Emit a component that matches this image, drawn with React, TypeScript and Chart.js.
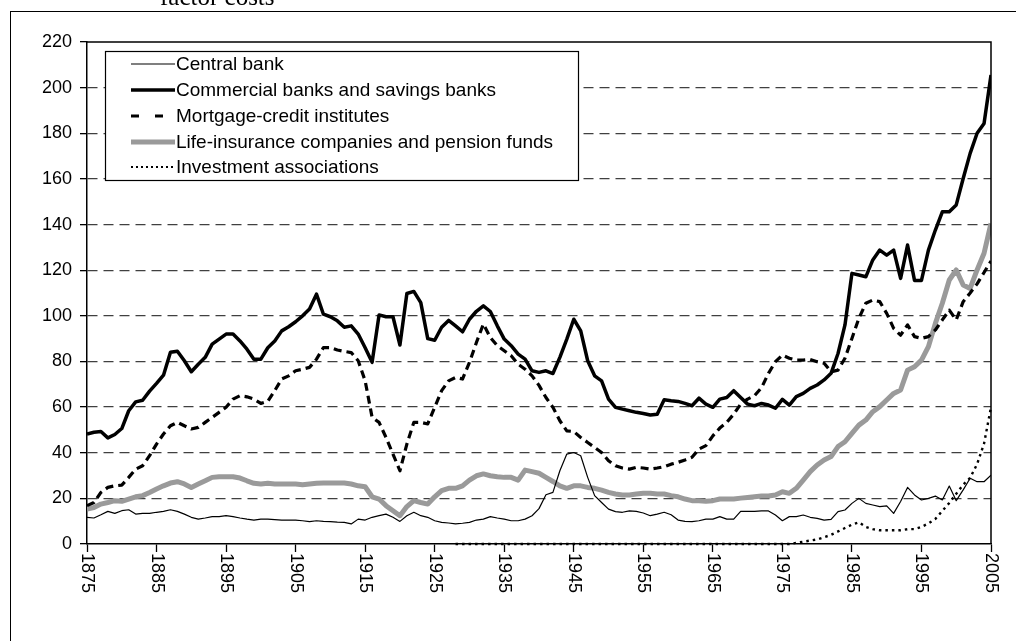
import React, { useEffect, useRef } from "react";
import { Chart, registerables } from "chart.js";

Chart.register(...registerables);

const startYear = 1875;
const endYear = 2005;

const xTickYears = [1875, 1885, 1895, 1905, 1915, 1925, 1935, 1945, 1955, 1965, 1975, 1985, 1995, 2005];

const seriesNames = [
  "Central bank",
  "Commercial banks and savings banks",
  "Mortgage-credit institutes",
  "Life-insurance companies and pension funds",
  "Investment associations",
];

// 1875..2005
const centralBank = [
  11.7, 11.4, 12.8, 14.3, 13.4, 14.6, 15, 13.1, 13.4, 13.4,
  13.9, 14.3, 15, 14.3, 13.1, 11.7, 10.9, 11.4, 12, 12,
  12.4, 12, 11.4, 10.9, 10.5, 10.9, 10.9, 10.7, 10.5, 10.5,
  10.5, 10.2, 9.8, 10.2, 9.9, 9.8, 9.6, 9.5, 8.8, 10.9,
  10.5, 11.7, 12.4, 13.1, 11.7, 9.9, 12.4, 13.9, 12.4, 11.7,
  10.2, 9.5, 9.2, 8.8, 9.1, 9.5, 10.5, 10.9, 12, 11.4,
  10.9, 10.2, 10.2, 10.9, 12.4, 15.5, 21.6, 22.6, 32.1, 39.4,
  40.1, 38.7, 29.2, 21.2, 18.2, 15.3, 14.2, 13.9, 14.5, 14.3,
  13.6, 12.4, 13.1, 13.9, 12.8, 10.5, 9.9, 9.8, 10.2, 10.9,
  10.9, 12, 10.9, 10.9, 14.3, 14.3, 14.3, 14.5, 14.5, 12.7,
  10.2, 12, 12, 12.7, 11.7, 11.2, 10.5, 10.8, 14.2, 14.9,
  17.8, 20, 17.8, 17.1, 16.4, 16.7, 13.4, 18.6, 24.8, 21.5,
  19.3, 20, 21, 19.3, 25.4, 19, 23.7, 28.8, 27.3, 27.3,
  30.2,
];

const commercialBanks = [
  48.2, 49, 49.3, 46.5, 48, 50.6, 58.4, 62.3, 63, 67,
  70.4, 74, 84, 84.5, 80.3, 75.5, 78.8, 81.8, 87.6, 89.8,
  92, 92, 89, 85.4, 81, 81, 86, 89, 93.4, 95.2,
  97.4, 100, 103, 109.5, 100.7, 99.6, 97.8, 95, 95.6, 92,
  86, 79.6, 100.4, 99.6, 99.6, 87.2, 109.8, 110.7, 105.8, 90,
  89.3, 95, 98, 95.6, 93, 98.5, 102, 104.4, 101.9, 95.6,
  89.8, 86.9, 83.2, 81, 75.9, 75.2, 75.9, 74.7, 81.8, 89.8,
  98.5, 93.4, 80.3, 73.7, 71.5, 63.5, 59.9, 59.1, 58.4, 57.7,
  57.2, 56.5, 56.9, 63.2, 62.8, 62.5, 61.6, 60.6, 63.9, 61.3,
  59.9, 63.5, 64.2, 67.2, 64.2, 61.3, 60.6, 61.6, 60.9, 59.5,
  63.4, 60.9, 64.6, 66, 68.2, 69.7, 71.9, 74.8, 83.5, 96,
  118.6, 117.9, 117.1, 124.5, 128.8, 126.6, 128.8, 116.4, 131, 115.5,
  115.5, 128.8, 137.6, 145.6, 145.6, 148.6, 160.2, 171.2, 180, 184.3,
  205.5,
];

const mortgageCredit = [
  16.8, 18.2, 22.6, 24.8, 25.5, 25.8, 29.2, 32.8, 34.3, 38.7,
  43.8, 48.2, 51.8, 53.3, 51.8, 50.4, 51.1, 53.3, 55.5, 57.7,
  59.9, 63.5, 65, 64.5, 63.5, 61.6, 62.5, 67.2, 72.3, 73.7,
  75.9, 76.6, 77.4, 81, 86.1, 86.1, 85, 84.4, 83.9, 80.3,
  71.5, 55.5, 53.3, 46.7, 39.4, 32.1, 43.8, 53.3, 53.3, 52.6,
  59.9, 67.2, 71.5, 73, 72.3, 79.6, 88.3, 96.4, 90.5, 86.9,
  84.7, 82.5, 78.8, 76.6, 73.7, 69.5, 64.2, 59.9, 54, 49.6,
  49.3, 46.7, 44.5, 42.3, 40.1, 36.5, 34.3, 33.3, 32.8, 33.6,
  33.3, 32.8, 33.3, 33.9, 35, 35.8, 36.8, 38, 41.6, 43.1,
  47.4, 50.8, 53.3, 56.9, 61.3, 63.5, 65, 68.5, 74.8, 79.9,
  82.8, 81.4, 80.6, 80.6, 80.9, 79.9, 79.2, 75.5, 76.2, 81.4,
  90.1, 98.9, 105.5, 106.9, 106.2, 101.1, 94.5, 91.5, 96, 90.9,
  90.1, 90.9, 93.8, 98.2, 102.5, 98.2, 106.2, 110, 114, 119,
  124,
];

const lifeInsurance = [
  15.3, 16, 17.5, 18.2, 19, 18.7, 19.7, 20.7, 21.2, 22.6,
  24.1, 25.5, 26.7, 27.3, 26.3, 24.8, 26.3, 27.7, 29.2, 29.5,
  29.5, 29.5, 28.9, 27.7, 26.6, 26.3, 26.6, 26.3, 26.3, 26.3,
  26.3, 26, 26.3, 26.6, 26.7, 26.7, 26.7, 26.7, 26.3, 25.5,
  25.1, 20.7, 19.7, 16.8, 14.6, 12.4, 16.4, 19, 18.2, 17.5,
  20.7, 23.4, 24.4, 24.4, 25.5, 28, 29.9, 30.7, 29.9, 29.5,
  29.2, 29.2, 28, 32.4, 31.7, 31, 29.2, 27.4, 25.5, 24.4,
  25.5, 25.5, 24.8, 24.4, 23.6, 22.6, 21.9, 21.5, 21.5, 21.9,
  22.2, 22.2, 21.9, 21.9, 21.2, 20.7, 19.7, 19, 19, 18.7,
  19, 19.7, 19.7, 19.7, 20.1, 20.4, 20.7, 21, 21, 21.5,
  22.9, 22.2, 24.4, 28, 31.7, 34.6, 36.8, 38.3, 42.7, 44.8,
  48.5, 52.1, 54.3, 58, 60.2, 63.1, 66, 67.5, 76.2, 77.7,
  80.6, 86.5, 96.7, 105.5, 115.7, 120.1, 113.5, 112, 120.1, 127.4,
  140.5,
];

// Investment associations, 1928..2005
const investmentStartYear = 1928;
const investment = [
  0, 0, 0, 0, 0, 0, 0, 0, 0, 0,
  0, 0, 0, 0, 0, 0, 0, 0, 0, 0,
  0, 0, 0, 0, 0, 0, 0, 0, 0, 0,
  0, 0, 0, 0, 0, 0, 0, 0, 0, 0,
  0, 0, 0, 0, 0, 0, 0, 0, 0,
  0.5, 1, 1.5, 2, 3, 4, 5.5, 7, 8.5, 9.5,
  7.5, 6.5, 6, 6, 6, 6, 6.5, 6.5, 7.5, 9,
  11, 14.5, 18, 22, 26, 29, 35, 44, 60,
];

const FONT = "'Liberation Sans', Arial, Helvetica, sans-serif";

const seriesStyles = [
  { color: "#000000", width: 1.2, dash: [] as number[], legendDash: [] as number[] },
  { color: "#000000", width: 3.5, dash: [], legendDash: [] },
  { color: "#000000", width: 3.2, dash: [8, 5], legendDash: [8, 16] },
  { color: "#9a9a9a", width: 5, dash: [], legendDash: [] },
  { color: "#000000", width: 2.4, dash: [2.5, 4], legendDash: [2, 3] },
];

const toPoints = (vals: number[], from: number) => vals.map((v, i) => ({ x: from + i, y: v }));

const overlayPlugin = {
  id: "overlay",
  afterDraw(chart: any) {
    const { ctx, chartArea } = chart;
    const xs = chart.scales.x;
    ctx.save();
    // plot frame
    ctx.strokeStyle = "#000";
    ctx.lineWidth = 1.5;
    ctx.setLineDash([]);
    ctx.beginPath();
    ctx.moveTo(chartArea.left, chartArea.top);
    ctx.lineTo(chartArea.right, chartArea.top);
    ctx.lineTo(chartArea.right, chartArea.bottom);
    ctx.stroke();

    // x tick labels rotated clockwise
    ctx.fillStyle = "#000";
    ctx.font = `18px ${FONT}`;
    ctx.textAlign = "left";
    ctx.textBaseline = "middle";
    xTickYears.forEach((yr) => {
      const px = xs.getPixelForValue(yr);
      ctx.save();
      ctx.translate(px, chartArea.bottom + 9);
      ctx.rotate(Math.PI / 2);
      ctx.fillText(String(yr), 0, 0);
      ctx.restore();
    });

    // legend
    const bx = 105.5, by = 51.5, bw = 473, bh = 129;
    ctx.fillStyle = "#fff";
    ctx.fillRect(bx, by, bw, bh);
    ctx.strokeStyle = "#000";
    ctx.lineWidth = 1.2;
    ctx.strokeRect(bx, by, bw, bh);
    const rows = [64, 90, 116, 142, 167];
    ctx.font = `19px ${FONT}`;
    ctx.textBaseline = "middle";
    seriesNames.forEach((name, i) => {
      const st = seriesStyles[i];
      ctx.save();
      ctx.strokeStyle = st.color;
      ctx.lineWidth = i === 4 ? 1.8 : st.width;
      ctx.setLineDash(st.legendDash);
      ctx.beginPath();
      ctx.moveTo(131, rows[i]);
      ctx.lineTo(175, rows[i]);
      ctx.stroke();
      ctx.restore();
      ctx.fillStyle = "#000";
      ctx.fillText(name, 176, rows[i] + 1);
    });
    ctx.restore();
  },
};

export default function App() {
  const canvasRef = useRef<HTMLCanvasElement | null>(null);

  useEffect(() => {
    if (!canvasRef.current) return;
    const seriesData = [
      toPoints(centralBank, startYear),
      toPoints(commercialBanks, startYear),
      toPoints(mortgageCredit, startYear),
      toPoints(lifeInsurance, startYear),
      toPoints(investment, investmentStartYear),
    ];
    const drawOrder = [2, 0, 1, 3, 4];
    const chart = new Chart(canvasRef.current, {
      type: "line",
      data: {
        datasets: seriesNames.map((name, i) => ({
          label: name,
          data: seriesData[i],
          borderColor: seriesStyles[i].color,
          borderWidth: seriesStyles[i].width,
          borderDash: seriesStyles[i].dash,
          pointRadius: 0,
          tension: 0,
          fill: false,
          order: drawOrder[i],
          clip: i === 4 ? false : undefined,
          borderJoinStyle: "round" as const,
        })),
      },
      options: {
        responsive: false,
        animation: false,
        layout: { padding: { left: 0, top: 42, right: 25, bottom: 0 } },
        plugins: { legend: { display: false }, tooltip: { enabled: false } },
        scales: {
          x: {
            type: "linear",
            min: startYear,
            max: endYear,
            afterBuildTicks: (s: any) => {
              s.ticks = xTickYears.map((v) => ({ value: v }));
            },
            afterFit: (s: any) => {
              s.height = 97;
            },
            ticks: { display: false },
            grid: { drawOnChartArea: false, drawTicks: true, tickLength: 8, tickColor: "#000", tickWidth: 1.3 },
            border: { display: true, color: "#000", width: 1.5 },
          },
          y: {
            min: 0,
            max: 220,
            afterFit: (s: any) => {
              s.width = 87;
            },
            ticks: { stepSize: 20, color: "#000", font: { family: FONT, size: 18 }, padding: 8 },
            grid: {
              color: (c: any) => (c.tick && (c.tick.value === 0 || c.tick.value === 220) ? "rgba(0,0,0,0)" : "#404040"),
              lineWidth: 1.3,
              tickLength: 7,
              tickColor: "#000",
              tickWidth: 1.3,
              tickBorderDash: [],
            },
            border: { display: true, color: "#000", width: 1.5, dash: [10, 6] },
          },
        },
      },
      plugins: [overlayPlugin],
    });
    return () => chart.destroy();
  }, []);

  return (
    <div style={{ position: "absolute", left: 0, top: 0, width: 1016, height: 641, overflow: "hidden", background: "#fff" }}>
      <div
        style={{
          position: "absolute",
          left: 10,
          top: 11,
          width: 1100,
          height: 700,
          border: "1px solid #000",
          boxSizing: "border-box",
        }}
      />
      <canvas
        ref={canvasRef}
        width={1016}
        height={641}
        style={{ position: "absolute", left: 0, top: 0, width: 1016, height: 641 }}
      />
      <div
        style={{
          position: "absolute",
          left: 160,
          top: -16,
          fontFamily: "'Liberation Serif', 'Times New Roman', serif",
          fontSize: 25,
          lineHeight: "25px",
          color: "#000",
          whiteSpace: "nowrap",
        }}
      >
        factor costs
      </div>
    </div>
  );
}
